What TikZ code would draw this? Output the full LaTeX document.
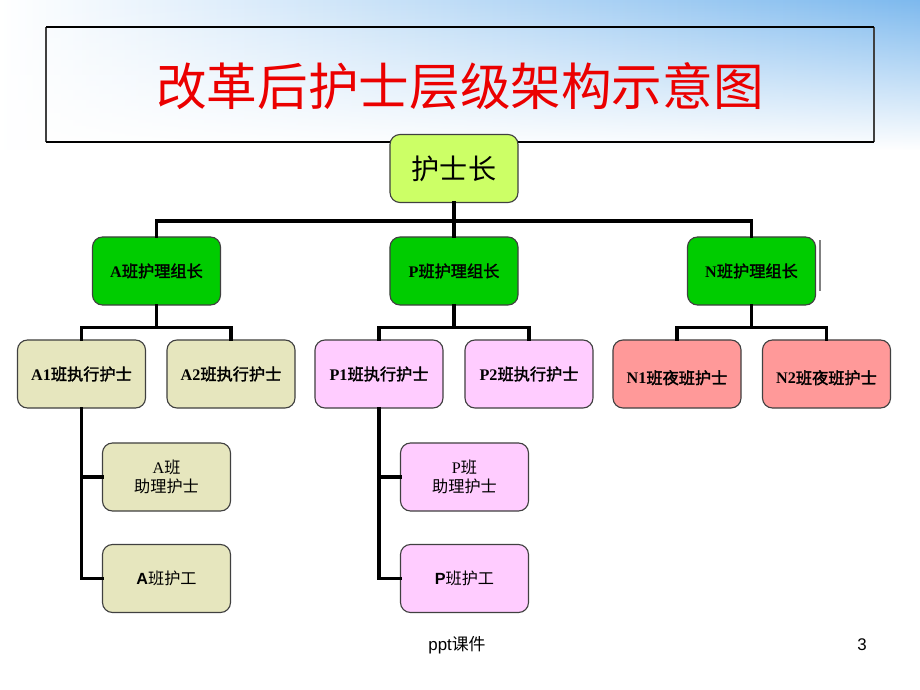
\documentclass[tikz,border=0pt]{standalone}
\usepackage{fontspec}
\setmainfont{Liberation Serif}
\setsansfont{Liberation Sans}
\newfontfamily\cjk{Noto Sans CJK SC}[AutoFakeBold=2]
\usepackage{tikz}
\usetikzlibrary{positioning}
\usetikzlibrary{calc}
\usetikzlibrary{fadings}

\definecolor{bandblue}{RGB}{125,185,238}
\definecolor{titlered}{RGB}{235,0,0}
\definecolor{headfill}{RGB}{204,255,102}
\definecolor{leadfill}{RGB}{0,204,0}
\definecolor{afill}{RGB}{230,230,190}
\definecolor{pfill}{RGB}{255,204,255}
\definecolor{nfill}{RGB}{255,153,153}
\definecolor{boxline}{RGB}{64,64,64}

\newcommand{\zh}[1]{{\cjk #1}}

\tikzfading[name=bandfade, top color=transparent!0, bottom color=transparent!100]

\begin{document}
\begin{tikzpicture}[x=0.025cm, y=-0.025cm]
% -------------------------------------------------
\tikzset{
  box/.style={draw=boxline, line width=0.8pt, rounded corners=0.25cm, rectangle,
    minimum width=3.2cm, minimum height=1.7cm, align=center, inner sep=0pt},
  head/.style={box, fill=headfill, font=\fontsize{20}{24}\selectfont},
  lead/.style={box, fill=leadfill, font=\fontsize{11.5}{13}\selectfont\bfseries},
  staffA/.style={box, fill=afill, font=\fontsize{11.5}{13.5}\selectfont},
  staffP/.style={box, fill=pfill, font=\fontsize{11.5}{13.5}\selectfont},
  staffN/.style={box, fill=nfill, font=\fontsize{11.5}{13.5}\selectfont\bfseries},
  line/.style={draw, line width=2.4pt, line cap=rect}
}
% -------------------------------------------------
% Page and header band
\useasboundingbox (0,0) rectangle (920,690);
\fill[white] (0,0) rectangle (920,690);
\shade[left color=white, right color=bandblue, path fading=bandfade]
  (0,0) rectangle (920,150);

\draw[boxline, line width=1.5pt] (46,142) -- (46,27);
\draw[boxline, line width=1.5pt] (874,27) -- (874,142);
\draw[black, line width=1.2pt] (46,27) -- (874,27);
\draw[black, line width=1.2pt] (46,142) -- (874,142);
\node[text=titlered, font=\fontsize{36}{40}\selectfont] (title) at (460,86)
  {\zh{改革后护士层级架构示意图}};

% -------------------------------------------------
% Placing the nodes

\node[head] (hn) at (454,168.5) {\zh{护士长}};

\node[lead] (la) at (156.5,271) {A\zh{班护理组长}};
\node[lead] (lp) at (454,271) {P\zh{班护理组长}};
\node[lead] (ln) at (751.5,271) {N\zh{班护理组长}};

\node[staffA] (a1) at (81.5,374) {\textbf{A1\zh{班执行护士}}};
\node[staffA] (a2) at (231,374) {\textbf{A2\zh{班执行护士}}};
\node[staffP] (p1) at (379,374) {\textbf{P1\zh{班执行护士}}};
\node[staffP] (p2) at (529,374) {\textbf{P2\zh{班执行护士}}};
\node[staffN, text height=1.5em] (n1) at (677,374) {N1\zh{班夜班护士}};
\node[staffN, text height=1.5em] (n2) at (826.5,374) {N2\zh{班夜班护士}};

\node[staffA] (aa) at (166.5,477) {A\zh{班}\\\zh{助理护士}};
\node[staffA] (aw) at (166.5,578.5) {\sffamily\textbf{A}\zh{班护工}};
\node[staffP] (pa) at (464.5,477) {P\zh{班}\\\zh{助理护士}};
\node[staffP] (pw) at (464.5,578.5) {\sffamily\textbf{P}\zh{班护工}};

% -------------------------------------------------
% Connectors

\path[line] (hn.south) -- ++(0,18) coordinate (bus0);
\path[line] (la.north) |- (bus0) -| (ln.north);
\path[line] (bus0) -- (lp.north);

\path[line] (la.south) -- ++(0,22) coordinate (busa);
\path[line] (a1.north) |- (busa) -| (a2.north);
\path[line] (lp.south) -- ++(0,22) coordinate (busp);
\path[line] (p1.north) |- (busp) -| (p2.north);
\path[line] (ln.south) -- ++(0,22) coordinate (busn);
\path[line] (n1.north) |- (busn) -| (n2.north);

\path[line] (a1.south) |- (aa.west);
\path[line] (a1.south) |- (aw.west);
\path[line] (p1.south) |- (pa.west);
\path[line] (p1.south) |- (pw.west);

\draw[gray, line width=1pt] (820,240) -- (820,291);

% -------------------------------------------------
% Footer
\node[font=\sffamily\fontsize{12}{14}\selectfont] (foot) at (457,645) {ppt\zh{课件}};
\node[font=\sffamily\fontsize{12}{14}\selectfont] (page) at (862,645) {3};

\end{tikzpicture}
\end{document}
